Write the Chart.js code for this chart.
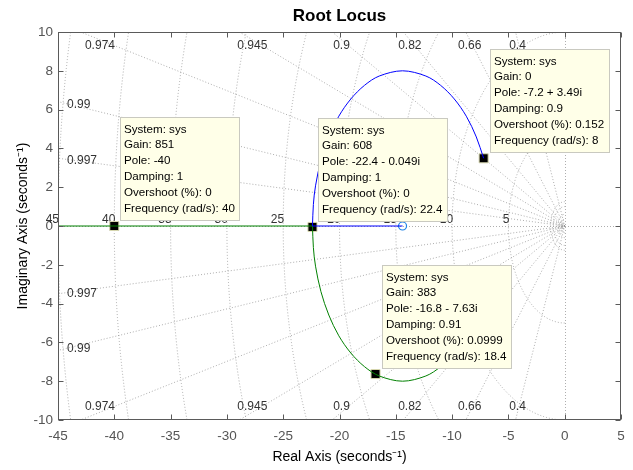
<!DOCTYPE html>
<html>
<head>
<meta charset="utf-8">
<script src="https://cdn.jsdelivr.net/npm/chart.js@4.4.0/dist/chart.umd.min.js"></script>
<style>
  html, body { margin: 0; padding: 0; background: #fff; }
  canvas { display: block; }
</style>
</head>
<body>
<canvas id="locus" width="633" height="470"></canvas>
<script>
// Root locus branches (real / imaginary parts)
const upperArcRe = [-7.2, -7.85, -8.74, -9.81, -11.02, -12.33, -14.4, -16.47, -17.78, -18.99, -20.06, -20.95, -21.65, -22.13, -22.32, -22.4];
const upperArcIm = [3.49, 4.59, 5.66, 6.55, 7.25, 7.73, 8.0, 7.73, 7.25, 6.55, 5.66, 4.59, 3.38, 2.07, 1.11, 0];
const lowerArcRe = [-7.2, -7.85, -8.74, -9.81, -11.02, -12.33, -14.4, -16.47, -17.78, -18.99, -20.06, -20.95, -21.65, -22.13, -22.32, -22.4];
const lowerArcIm = [-3.49, -4.59, -5.66, -6.55, -7.25, -7.73, -8.0, -7.73, -7.25, -6.55, -5.66, -4.59, -3.38, -2.07, -1.11, 0];
const upperAxisRe = [-22.4, -14.4];
const lowerAxisRe = [-22.4, -45];
const zeroRe = [-14.4];
const zeroIm = [0];

// Data tips
const tipRe = [-40, -22.4, -7.2, -16.8];
const tipIm = [0, -0.049, 3.49, -7.63];
const tipGain = [851, 608, 0, 383];
const tipDamping = [1, 1, 0.9, 0.91];
const tipOvershoot = [0, 0, 0.152, 0.0999];
const tipFreq = [40, 22.4, 8, 18.4];

// sgrid values
const dampingTop = [0.974, 0.945, 0.9, 0.82, 0.66, 0.4];
const dampingSide = [0.99, 0.997];
const natFreqs = [5, 10, 15, 20, 25, 30, 35, 40, 45];
const smallFreqs = [0.35, 0.6, 1.0, 1.25];

const FONT = '"Liberation Sans", Arial, Helvetica, sans-serif';

const pts = (re, im) => re.map((r, i) => ({ x: r, y: Array.isArray(im) ? im[i] : im }));

const poleText = (re, im) => {
  if (im === 0) return String(re);
  return re + (im < 0 ? ' - ' : ' + ') + Math.abs(im) + 'i';
};

// damping / frequency grid drawn under the locus
const sgridPlugin = {
  id: 'sgrid',
  beforeDatasetsDraw(chart) {
    const { ctx, chartArea: a, scales: { x, y } } = chart;
    const px = v => x.getPixelForValue(v);
    const py = v => y.getPixelForValue(v);
    const ox = px(0), oy = py(0);
    ctx.save();
    ctx.beginPath();
    ctx.rect(a.left, a.top, a.width, a.height);
    ctx.clip();
    ctx.strokeStyle = 'rgba(140,140,140,0.7)';
    ctx.lineWidth = 1;
    ctx.setLineDash([1, 2]);

    ctx.beginPath();
    ctx.moveTo(a.left, Math.round(oy) + 0.5);
    ctx.lineTo(a.right, Math.round(oy) + 0.5);
    ctx.moveTo(Math.round(ox) + 0.5, a.top);
    ctx.lineTo(Math.round(ox) + 0.5, a.bottom);
    ctx.stroke();

    [...dampingTop, ...dampingSide].forEach(z => {
      const s = Math.sqrt(1 - z * z);
      const R = 80;
      ctx.beginPath();
      ctx.moveTo(px(-R * z), py(R * s));
      ctx.lineTo(ox, oy);
      ctx.lineTo(px(-R * z), py(-R * s));
      ctx.stroke();
    });

    [...natFreqs, ...smallFreqs].forEach(w => {
      const rx = Math.abs(px(w) - ox);
      const ry = Math.abs(py(w) - oy);
      ctx.beginPath();
      ctx.ellipse(ox, oy, rx, ry, 0, Math.PI / 2, Math.PI * 1.5);
      ctx.stroke();
    });
    ctx.restore();

    // grid labels (not clipped, "45" sits on the left edge)
    ctx.save();
    ctx.fillStyle = '#333';
    ctx.font = '12px ' + FONT;
    ctx.textAlign = 'right';
    ctx.textBaseline = 'alphabetic';
    natFreqs.forEach(w => {
      ctx.fillText(String(w), px(-w) + 1, oy - 3);
    });

    ctx.textAlign = 'center';
    ctx.textBaseline = 'middle';
    dampingTop.forEach(z => {
      const slope = Math.sqrt(1 - z * z) / z;
      const yv = 9.6;
      const xv = -yv / slope;
      ctx.fillText(String(z), px(xv), a.top + 14);
      ctx.fillText(String(z), px(xv), a.bottom - 13);
    });

    ctx.textAlign = 'left';
    dampingSide.forEach(z => {
      const slope = Math.sqrt(1 - z * z) / z;
      const lx = a.left + 9;
      const xv = x.getValueForPixel(lx);
      ctx.fillText(String(z), lx, py(-xv * slope) + 1);
      ctx.fillText(String(z), lx, py(xv * slope) + 1);
    });
    ctx.restore();
  }
};

// data tip boxes on top of the locus
const dataTipPlugin = {
  id: 'dataTips',
  afterDatasetsDraw(chart) {
    const { ctx, scales: { x, y } } = chart;
    ctx.save();
    ctx.font = '11.6px ' + FONT;
    ctx.textAlign = 'left';
    ctx.textBaseline = 'middle';
    const lineH = 15.8;
    tipRe.forEach((re, i) => {
      const lines = [
        'System: sys',
        'Gain: ' + tipGain[i],
        'Pole: ' + poleText(re, tipIm[i]),
        'Damping: ' + tipDamping[i],
        'Overshoot (%): ' + tipOvershoot[i],
        'Frequency (rad/s): ' + tipFreq[i]
      ];
      const mx = x.getPixelForValue(re);
      const my = y.getPixelForValue(tipIm[i]);
      const w = Math.ceil(Math.max(...lines.map(l => ctx.measureText(l).width))) + 8;
      const h = Math.round(lines.length * lineH + 8);
      const bx = Math.round(mx + 6);
      const by = Math.round(my - 6 - h);
      ctx.fillStyle = '#ffffe8';
      ctx.fillRect(bx, by, w, h);
      ctx.strokeStyle = '#c9c9c0';
      ctx.lineWidth = 1;
      ctx.strokeRect(bx + 0.5, by + 0.5, w, h);
      ctx.fillStyle = '#000';
      lines.forEach((l, j) => ctx.fillText(l, bx + 4, by + 4.5 + lineH * (j + 0.5)));
    });
    ctx.restore();
  }
};

// axes box with inward tick marks
const axesBoxPlugin = {
  id: 'axesBox',
  afterDraw(chart) {
    const { ctx, chartArea: a, scales: { x, y } } = chart;
    const L = Math.round(a.left) + 0.5, R = Math.round(a.right) - 0.5;
    const T = Math.round(a.top) + 0.5, B = Math.round(a.bottom) - 0.5;
    ctx.save();
    ctx.strokeStyle = '#5a5a5a';
    ctx.lineWidth = 1;
    ctx.strokeRect(L, T, R - L, B - T);
    ctx.beginPath();
    x.ticks.forEach(t => {
      const p = Math.round(x.getPixelForValue(t.value)) + 0.5;
      ctx.moveTo(p, B); ctx.lineTo(p, B - 5);
      ctx.moveTo(p, T); ctx.lineTo(p, T + 5);
    });
    y.ticks.forEach(t => {
      const p = Math.round(y.getPixelForValue(t.value)) + 0.5;
      ctx.moveTo(L, p); ctx.lineTo(L + 5, p);
      ctx.moveTo(R, p); ctx.lineTo(R - 5, p);
    });
    ctx.stroke();
    ctx.restore();
  }
};

const branch = (data, color) => ({
  type: 'line',
  data,
  borderColor: color,
  borderWidth: 1,
  pointRadius: 0,
  fill: false,
  tension: 0.33
});

new Chart(document.getElementById('locus'), {
  type: 'scatter',
  data: {
    datasets: [
      branch(pts(upperArcRe, upperArcIm), 'rgb(0,0,255)'),
      { ...branch(pts(upperAxisRe, 0), 'rgb(0,0,255)'), tension: 0 },
      branch(pts(lowerArcRe, lowerArcIm), 'rgb(0,128,0)'),
      { ...branch(pts(lowerAxisRe, 0), 'rgb(0,128,0)'), tension: 0 },
      {
        data: pts(zeroRe, zeroIm),
        pointStyle: 'circle',
        pointRadius: 4,
        borderColor: 'rgb(30,130,230)',
        backgroundColor: 'rgba(0,0,0,0)',
        borderWidth: 1.2
      },
      {
        data: pts(tipRe, tipIm),
        pointStyle: 'rect',
        pointRadius: 6.4,
        borderColor: '#d8d8b0',
        backgroundColor: '#000',
        borderWidth: 1
      }
    ]
  },
  options: {
    responsive: false,
    animation: false,
    devicePixelRatio: 1,
    layout: { padding: { top: 0, right: 12, bottom: 0, left: 0 } },
    plugins: {
      legend: { display: false },
      tooltip: { enabled: false },
      title: {
        display: true,
        text: 'Root Locus',
        fullSize: false,
        color: '#000',
        font: { family: FONT, size: 17, weight: 'bold' },
        padding: { top: 6, bottom: 5.6 }
      }
    },
    scales: {
      x: {
        type: 'linear',
        min: -45,
        max: 5,
        ticks: {
          stepSize: 5,
          color: '#555',
          font: { family: FONT, size: 13.5 },
          padding: 8,
          maxRotation: 0,
          autoSkip: false
        },
        grid: { display: false, drawTicks: false },
        border: { display: false },
        title: {
          display: true,
          text: 'Real Axis (seconds⁻¹)',
          color: '#000',
          font: { family: FONT, size: 14 },
          padding: { top: 0, bottom: 4 }
        },
        afterFit: s => { s.height = 50; }
      },
      y: {
        type: 'linear',
        min: -10,
        max: 10,
        ticks: {
          stepSize: 2,
          color: '#555',
          font: { family: FONT, size: 13.5 },
          padding: 5
        },
        grid: { display: false, drawTicks: false },
        border: { display: false },
        title: {
          display: true,
          text: 'Imaginary Axis (seconds⁻¹)',
          color: '#000',
          font: { family: FONT, size: 14 },
          padding: { top: 15, bottom: 0 }
        },
        afterFit: s => { s.width = 58; }
      }
    }
  },
  plugins: [sgridPlugin, dataTipPlugin, axesBoxPlugin]
});
</script>
</body>
</html>
